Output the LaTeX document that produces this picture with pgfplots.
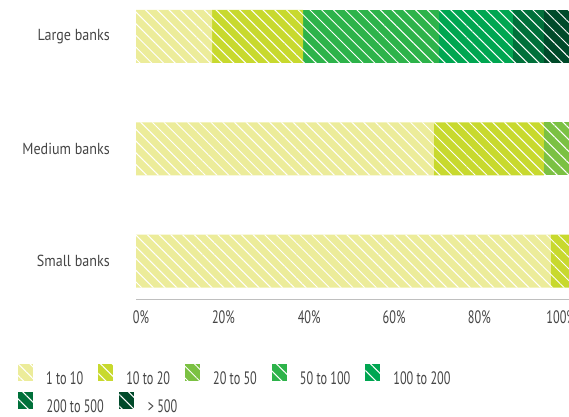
\documentclass[border=0pt]{standalone}
\usepackage{pgfplots}
\pgfplotsset{compat=1.18}
\usepackage{fontspec}
\setmainfont{PT Sans}
\newfontfamily\condfont{PT Sans}[FakeStretch=0.68]
\newfontfamily\labfont{PT Sans}[FakeStretch=0.88]
\usetikzlibrary{patterns.meta}

\definecolor{cA}{HTML}{ECEC9A}
\definecolor{cB}{HTML}{C8D92E}
\definecolor{cC}{HTML}{7BC143}
\definecolor{cD}{HTML}{2DB34A}
\definecolor{cE}{HTML}{00A651}
\definecolor{cF}{HTML}{00703A}
\definecolor{cG}{HTML}{004A2A}
\definecolor{txt}{HTML}{454545}

\pgfplotsset{hatch/.style={fill=#1, draw=none,
  postaction={fill opacity=0.22, pattern={Lines[angle=-45,distance=8.3pt,line width=1pt]}, pattern color=white}},
  sqlegend/.style={legend image code/.code={\fill[##1] (0pt,-2pt) rectangle (15pt,15pt);}},
  sqlegendshift/.style={legend image code/.code={\fill[##1,overlay,xshift=#1] (0pt,-2pt) rectangle (15pt,15pt);}}}

\begin{document}
\begin{tikzpicture}
\useasboundingbox (-136pt,-117pt) rectangle (433pt,299pt);
\begin{axis}[
  scale only axis, width=433pt, height=299pt,
  xbar stacked, bar width=53pt,
  xmin=0, xmax=100, ymin=-0.338, ymax=2.325,
  enlargelimits=false,
  axis x line*=bottom, axis y line*=left,
  x axis line style={draw=black!25, line width=0.8pt, -},
  y axis line style={draw=none},
  % labels sit slightly inward at the ends, as in the original
  xtick={1.15,20.2,40,59.6,79.3,98.2},
  xticklabels={0\%,20\%,40\%,60\%,80\%,100\%},
  xtick style={draw=none},
  xticklabel style={font=\condfont\fontsize{18}{20}\selectfont, text=txt, inner sep=0pt, anchor=north, yshift=-11pt},
  ytick={0,1,2},
  yticklabels={Small banks,Medium banks,Large banks},
  ytick style={draw=none},
  yticklabel style={font=\labfont\fontsize{16}{18}\selectfont, text=txt, inner sep=0pt, anchor=east, xshift=-26pt},
  legend columns=5,
  sqlegend,
  legend style={at={(axis description cs:0,0)}, anchor=north west, xshift=-118pt, yshift=-65pt,
    draw=none, fill=none, inner sep=0pt, row sep=5.5pt,
    font=\condfont\fontsize{18}{20}\selectfont, text=txt,
    nodes={inner sep=0pt},
    /tikz/every odd column/.append style={column sep=13pt},
    /tikz/every even column/.append style={column sep=15pt}},
  legend cell align=left,
]
\addplot[hatch=cA] coordinates {(95.8,0) (68.8,1) (17.6,2)};
\addplot[hatch=cB] coordinates {(4.2,0) (25.4,1) (21.0,2)};
\addplot[hatch=cC] coordinates {(0,0) (5.8,1) (0,2)};
\addplot[hatch=cD] coordinates {(0,0) (0,1) (31.4,2)};
\addplot[hatch=cE] coordinates {(0,0) (0,1) (17.1,2)};
\addplot[hatch=cF] coordinates {(0,0) (0,1) (7.1,2)};
\addplot[hatch=cG, sqlegendshift=21pt] coordinates {(0,0) (0,1) (5.8,2)};
\legend{1 to 10,10 to 20,20 to 50,50 to 100,100 to 200,\makebox[0pt][l]{200 to 500},\makebox[0pt][l]{\hspace*{21pt}> 500}}
\end{axis}
\end{tikzpicture}
\end{document}
